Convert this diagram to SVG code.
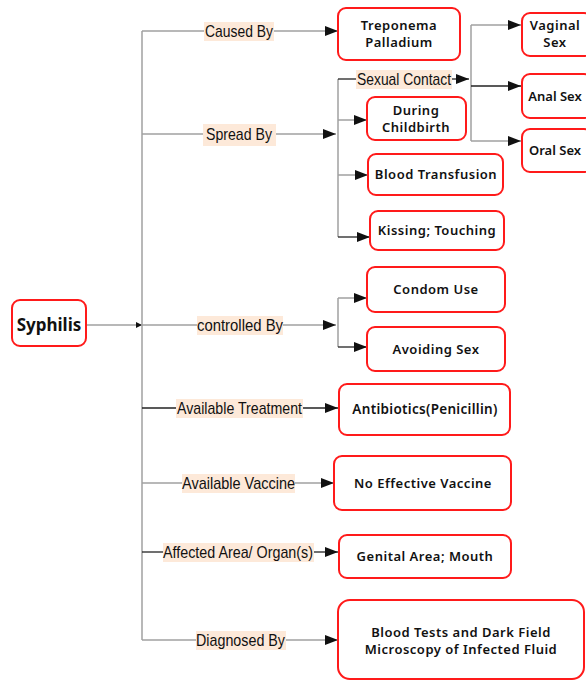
<svg xmlns="http://www.w3.org/2000/svg" width="586" height="680" viewBox="0 0 586 680">
<style>
.box{fill:#fff;stroke:#ff1a1a;stroke-width:2}
.bt{font-family:"Noto Sans","DejaVu Sans",sans-serif;font-size:13px;font-weight:600;letter-spacing:0.5px;fill:#111;text-anchor:middle}
.lb{font-family:"Liberation Sans Narrow","Liberation Sans",Arial,sans-serif;font-size:17px;fill:#111}
.lbg{fill:#fde9d9}
.g{fill:none;stroke:#a0a0a0;stroke-width:1.5}
.k{fill:none;stroke:#222;stroke-width:1.3}
</style>
<defs>
<marker id="ar" markerUnits="userSpaceOnUse" markerWidth="14" markerHeight="12" refX="13" refY="6" orient="auto">
<path d="M0,1 L13,6 L0,11 Z" fill="#111"/>
</marker>
<marker id="sm" markerUnits="userSpaceOnUse" markerWidth="8" markerHeight="8" refX="6" refY="4" orient="auto">
<path d="M0,1 L6,4 L0,7 Z" fill="#111"/>
</marker>
</defs>
<rect width="586" height="680" fill="#fff"/>
<g id="connectors">
<path class="g" d="M86 325 H142" marker-end="url(#sm)"/>
<path class="g" d="M142 31 V640"/>
<path class="g" d="M142 31 H205"/>
<path class="g" d="M273 31 H338" marker-end="url(#ar)"/>
<path class="g" d="M142 134 H204"/>
<path class="g" d="M276 134 H336" marker-end="url(#ar)"/>
<path class="g" d="M338 79 V237"/>
<path class="k" d="M338 79 H356"/>
<path class="k" d="M452 79 H469" marker-end="url(#ar)"/>
<path class="g" d="M471 25 V141"/>
<path class="g" d="M471 25 H521" marker-end="url(#ar)"/>
<path class="k" d="M471 86 H521" marker-end="url(#ar)"/>
<path class="g" d="M471 141 H521" marker-end="url(#ar)"/>
<path class="g" d="M338 120 H367" marker-end="url(#ar)"/>
<path class="g" d="M338 175 H368" marker-end="url(#ar)"/>
<path class="k" d="M338 237 H370" marker-end="url(#ar)"/>
<path class="g" d="M142 325 H197"/>
<path class="g" d="M283 325 H336" marker-end="url(#ar)"/>
<path class="g" d="M338 298 V347"/>
<path class="g" d="M338 298 H367" marker-end="url(#ar)"/>
<path class="k" d="M338 347 H367" marker-end="url(#ar)"/>
<path class="k" d="M142 408 H176"/>
<path class="k" d="M302 408 H338" marker-end="url(#ar)"/>
<path class="g" d="M142 483 H182"/>
<path class="g" d="M295 483 H334" marker-end="url(#ar)"/>
<path class="k" d="M142 552 H163"/>
<path class="k" d="M313 552 H338" marker-end="url(#ar)"/>
<path class="g" d="M142 640 H196"/>
<path class="g" d="M285 640 H338" marker-end="url(#ar)"/>
</g>
<g id="labels">
<rect class="lbg" x="204" y="22" width="70" height="19"/>
<text class="lb" x="205" y="37" textLength="68" lengthAdjust="spacingAndGlyphs">Caused By</text>
<rect class="lbg" x="203" y="124" width="73" height="22"/>
<text class="lb" x="206" y="140" textLength="66" lengthAdjust="spacingAndGlyphs">Spread By</text>
<rect class="lbg" x="356" y="70" width="96" height="19"/>
<text class="lb" x="357" y="85" textLength="94" lengthAdjust="spacingAndGlyphs">Sexual Contact</text>
<rect class="lbg" x="197" y="316" width="86" height="19"/>
<text class="lb" x="197" y="331" textLength="86" lengthAdjust="spacingAndGlyphs">controlled By</text>
<rect class="lbg" x="176" y="399" width="127" height="19"/>
<text class="lb" x="177" y="414" textLength="125" lengthAdjust="spacingAndGlyphs">Available Treatment</text>
<rect class="lbg" x="182" y="474" width="113" height="19"/>
<text class="lb" x="182" y="489" textLength="113" lengthAdjust="spacingAndGlyphs">Available Vaccine</text>
<rect class="lbg" x="163" y="543" width="151" height="19"/>
<text class="lb" x="163" y="558" textLength="150" lengthAdjust="spacingAndGlyphs">Affected Area/ Organ(s)</text>
<rect class="lbg" x="196" y="631" width="90" height="19"/>
<text class="lb" x="196" y="646" textLength="89" lengthAdjust="spacingAndGlyphs">Diagnosed By</text>
</g>
<g id="syphilis">
<rect class="box" x="12" y="300" width="74" height="46" rx="8"/>
<text class="bt" x="49" y="331" style="font-size:17px;font-weight:700;letter-spacing:0">Syphilis</text>
</g>
<g id="treponema">
<rect class="box" x="338" y="8" width="122" height="52" rx="8"/>
<text class="bt" x="399" y="30">Treponema</text>
<text class="bt" x="399" y="47">Palladium</text>
</g>
<g id="vaginal">
<rect class="box" x="522" y="13" width="70" height="43" rx="8"/>
<text class="bt" x="555" y="30">Vaginal</text>
<text class="bt" x="555" y="47">Sex</text>
</g>
<g id="anal">
<rect class="box" x="522" y="74" width="70" height="44" rx="8"/>
<text class="bt" x="555" y="101" style="letter-spacing:0">Anal Sex</text>
</g>
<g id="oral">
<rect class="box" x="522" y="129" width="70" height="43" rx="8"/>
<text class="bt" x="555" y="155" style="letter-spacing:0">Oral Sex</text>
</g>
<g id="childbirth">
<rect class="box" x="367" y="97" width="99" height="43" rx="8"/>
<text class="bt" x="416" y="115">During</text>
<text class="bt" x="416" y="132">Childbirth</text>
</g>
<g id="transfusion">
<rect class="box" x="368" y="154" width="135" height="41" rx="8"/>
<text class="bt" x="436" y="179">Blood Transfusion</text>
</g>
<g id="kissing">
<rect class="box" x="370" y="211" width="134" height="39" rx="8"/>
<text class="bt" x="437" y="235">Kissing; Touching</text>
</g>
<g id="condom">
<rect class="box" x="367" y="267" width="138" height="45" rx="8"/>
<text class="bt" x="436" y="294">Condom Use</text>
</g>
<g id="avoiding">
<rect class="box" x="367" y="327" width="138" height="44" rx="8"/>
<text class="bt" x="436" y="354">Avoiding Sex</text>
</g>
<g id="antibiotics">
<rect class="box" x="339" y="384" width="171" height="51" rx="8"/>
<text class="bt" x="425" y="414" style="font-size:13.5px;letter-spacing:0.3px">Antibiotics(Penicillin)</text>
</g>
<g id="novaccine">
<rect class="box" x="334" y="456" width="177" height="54" rx="8"/>
<text class="bt" x="423" y="488">No Effective Vaccine</text>
</g>
<g id="genital">
<rect class="box" x="339" y="535" width="172" height="43" rx="8"/>
<text class="bt" x="425" y="561">Genital Area; Mouth</text>
</g>
<g id="diagnosis">
<rect class="box" x="338" y="600" width="246" height="79" rx="12"/>
<text class="bt" x="461" y="637">Blood Tests and Dark Field</text>
<text class="bt" x="461" y="654">Microscopy of Infected Fluid</text>
</g>
</svg>
